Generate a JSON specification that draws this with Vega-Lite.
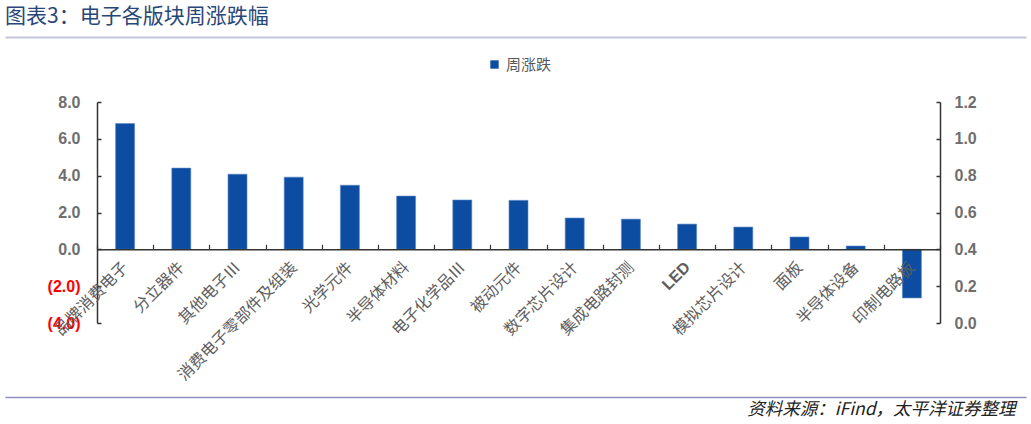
{
  "$schema": "https://vega.github.io/schema/vega-lite/v6.json",
  "width": 1021,
  "height": 221,
  "autosize": {"type": "none"},
  "padding": {"left": 5, "top": 102, "right": 5, "bottom": 101},
  "background": "white",
  "config": {"view": {"stroke": null}},
  "title": {
    "text": "图表3：电子各版块周涨跌幅",
    "anchor": "start",
    "frame": "group",
    "font": "Noto Sans CJK SC",
    "fontSize": 21,
    "fontWeight": "normal",
    "color": "#2A4779",
    "offset": 10
  },
  "data": {
    "values": [
      {"sector": "品牌消费电子", "change": 6.83, "series": "周涨跌"},
      {"sector": "分立器件", "change": 4.41, "series": "周涨跌"},
      {"sector": "其他电子Ⅲ", "change": 4.08, "series": "周涨跌"},
      {"sector": "消费电子零部件及组装", "change": 3.92, "series": "周涨跌"},
      {"sector": "光学元件", "change": 3.48, "series": "周涨跌"},
      {"sector": "半导体材料", "change": 2.89, "series": "周涨跌"},
      {"sector": "电子化学品Ⅲ", "change": 2.68, "series": "周涨跌"},
      {"sector": "被动元件", "change": 2.66, "series": "周涨跌"},
      {"sector": "数字芯片设计", "change": 1.70, "series": "周涨跌"},
      {"sector": "集成电路封测", "change": 1.64, "series": "周涨跌"},
      {"sector": "LED", "change": 1.37, "series": "周涨跌"},
      {"sector": "模拟芯片设计", "change": 1.21, "series": "周涨跌"},
      {"sector": "面板", "change": 0.67, "series": "周涨跌"},
      {"sector": "半导体设备", "change": 0.18, "series": "周涨跌"},
      {"sector": "印制电路板", "change": -2.64, "series": "周涨跌"}
    ]
  },
  "layer": [
    {
      "mark": {"type": "bar", "width": 19, "stroke": "#5A86C6", "strokeWidth": 0.6},
      "encoding": {
        "x": {
          "field": "sector",
          "type": "nominal",
          "sort": null,
          "scale": {"range": [92, 935], "paddingInner": 0, "paddingOuter": 0},
          "axis": {
            "orient": "bottom",
            "offset": -73.67,
            "zindex": 1,
            "title": null,
            "domainColor": "#333333",
            "domainWidth": 1.5,
            "tickBand": "extent",
            "tickSize": -5,
            "tickColor": "#333333",
            "tickWidth": 1.2,
            "labelAngle": -45,
            "labelAlign": "right",
            "labelBaseline": "middle",
            "labelPadding": 20,
            "labelFont": {"condition": {"test": "datum.label === 'LED'", "value": "Liberation Sans"}, "value": "Noto Sans CJK SC"},
            "labelFontWeight": {"condition": {"test": "datum.label === 'LED'", "value": "bold"}, "value": "normal"},
            "labelFontSize": 16,
            "labelColor": "#5E5E5E",
            "labelOverlap": false,
            "labelBound": false,
            "labelLimit": 300
          }
        },
        "y": {
          "field": "change",
          "type": "quantitative",
          "scale": {"domain": [-4, 8], "nice": false, "zero": false},
          "axis": {
            "orient": "left",
            "offset": -92,
            "title": null,
            "values": [-4, -2, 0, 2, 4, 6, 8],
            "grid": false,
            "domainColor": "#333333",
            "domainWidth": 1.5,
            "tickSize": -4,
            "tickColor": "#333333",
            "tickWidth": 1.5,
            "labelPadding": 21,
            "labelFont": "Liberation Sans",
            "labelFontSize": 16,
            "labelFontWeight": "bold",
            "labelExpr": "datum.value < 0 ? '(' + format(-datum.value, '.1f') + ')' : format(datum.value, '.1f')",
            "labelColor": {"condition": {"test": "datum.value < 0", "value": "#FF0000"}, "value": "#6E6E6E"}
          }
        },
        "color": {
          "field": "series",
          "type": "nominal",
          "scale": {"range": ["#0D4DA1"]},
          "legend": {
            "orient": "none",
            "legendX": 482,
            "legendY": -45,
            "title": null,
            "symbolType": "square",
            "symbolSize": 70,
            "symbolStrokeWidth": 0,
            "labelFont": "Noto Sans CJK SC",
            "labelFontSize": 15,
            "labelColor": "#595959",
            "labelOffset": 4
          }
        }
      }
    },
    {
      "mark": {"type": "point", "opacity": 0},
      "encoding": {
        "y": {
          "datum": 0.4,
          "type": "quantitative",
          "scale": {"domain": [0, 1.2], "nice": false, "zero": false},
          "axis": {
            "orient": "right",
            "offset": -86,
            "title": null,
            "values": [0, 0.2, 0.4, 0.6, 0.8, 1.0, 1.2],
            "format": ".1f",
            "grid": false,
            "domainColor": "#333333",
            "domainWidth": 1.5,
            "tickSize": -4,
            "tickColor": "#333333",
            "tickWidth": 1.5,
            "labelPadding": 18,
            "labelFont": "Liberation Sans",
            "labelFontSize": 16,
            "labelFontWeight": "bold",
            "labelColor": "#6E6E6E"
          }
        }
      }
    },
    {
      "mark": {"type": "point", "opacity": 0},
      "encoding": {
        "x": {
          "datum": 0,
          "type": "quantitative",
          "scale": {"domain": [0, 1]},
          "axis": {
            "orient": "top",
            "offset": 65,
            "title": null,
            "labels": false,
            "ticks": false,
            "grid": false,
            "domainColor": "#C5C5DC",
            "domainWidth": 2
          }
        }
      }
    },
    {
      "mark": {"type": "point", "opacity": 0},
      "encoding": {
        "x": {
          "datum": 0,
          "type": "quantitative",
          "scale": {"domain": [0, 1]},
          "axis": {
            "orient": "bottom",
            "offset": 74,
            "labels": false,
            "ticks": false,
            "grid": false,
            "domainColor": "#8F8FC2",
            "domainWidth": 1.5,
            "title": "资料来源：iFind，太平洋证券整理",
            "titleFont": "Noto Sans CJK SC",
            "titleFontStyle": "italic",
            "titleFontWeight": "normal",
            "titleFontSize": 17.5,
            "titleColor": "#222222",
            "titleAnchor": "end",
            "titleAlign": "right",
            "titleBaseline": "top",
            "titleX": 1010,
            "titlePadding": 3
          }
        }
      }
    }
  ],
  "resolve": {
    "scale": {"x": "independent", "y": "independent"},
    "axis": {"x": "independent", "y": "independent"}
  }
}
